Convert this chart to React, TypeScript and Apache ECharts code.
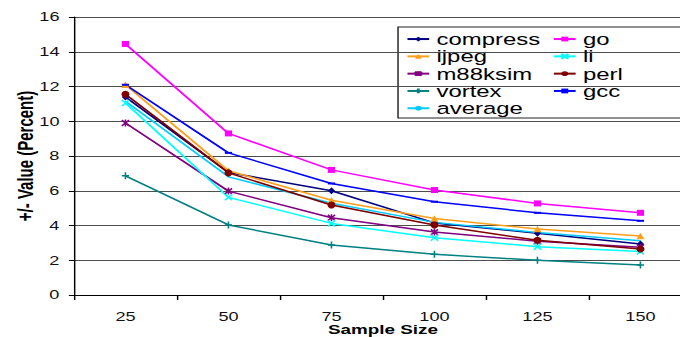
import React, { useEffect, useRef } from 'react';
import * as echarts from 'echarts';

const categories = ['25', '50', '75', '100', '125', '150'];
const compress = [11.4, 7.05, 6.0, 4.15, 3.55, 2.93];
const ijpeg = [12.1, 7.15, 5.45, 4.4, 3.8, 3.4];
const m88ksim = [9.9, 5.98, 4.45, 3.62, 3.1, 2.75];
const vortex = [6.86, 4.03, 2.88, 2.34, 2.0, 1.73];
const average = [11.15, 6.8, 5.28, 4.18, 3.6, 3.12];
const go = [14.45, 9.3, 7.2, 6.04, 5.27, 4.73];
const li = [11.05, 5.62, 4.12, 3.3, 2.78, 2.5];
const perl = [11.55, 7.03, 5.18, 4.03, 3.15, 2.65];
const gcc = [12.1, 8.18, 6.42, 5.37, 4.73, 4.27];

const legendCol1 = ['compress', 'ijpeg', 'm88ksim', 'vortex', 'average'];
const legendCol2 = ['go', 'li', 'perl', 'gcc'];

const S = 1.45;
const W = 680 / S;
const FONT = "'Liberation Sans', Arial, Helvetica, sans-serif";

const X_SYM = 'path://M0,0L10,10M10,0L0,10';
const STAR_SYM = 'path://M1,1L9,9M9,1L1,9M5,0L5,10';
const PLUS_SYM = 'path://M5,0L5,10M0,5L10,5';

export default function App() {
  const ref = useRef<HTMLDivElement>(null);
  useEffect(() => {
    const chart = echarts.init(ref.current!, null, { renderer: 'svg', width: W, height: 337 });
    const mk = (name: string, data: number[], color: string, symbol: string, size: any, stroke = false) => ({
      name,
      type: 'line',
      data,
      symbol,
      symbolSize: size,
      showSymbol: symbol !== 'none',
      lineStyle: { color, width: 1.5 },
      itemStyle: { color, borderColor: color, borderWidth: stroke ? 1.3 : 0 },
      emphasis: { disabled: true },
    });
    chart.setOption({
      animation: false,
      backgroundColor: '#fff',
      textStyle: { fontFamily: FONT },
      grid: { left: 51, top: 17, width: 426.2, height: 278, containLabel: false, outerBoundsMode: 'none' },
      xAxis: {
        type: 'category',
        data: categories,
        boundaryGap: true,
        name: 'Sample Size',
        nameLocation: 'middle',
        nameGap: 28,
        nameMoveOverlap: false,
        nameTextStyle: { fontFamily: FONT, fontSize: 13, fontWeight: 'bold', color: '#000' },
        axisLine: { lineStyle: { color: '#000', width: 1 } },
        axisTick: { show: true, length: 5, lineStyle: { color: '#000' } },
        axisLabel: { fontFamily: FONT, fontSize: 12.5, color: '#111', margin: 15 },
      },
      yAxis: {
        type: 'value',
        min: 0,
        max: 16,
        interval: 2,
        name: '+/- Value (Percent)',
        nameLocation: 'middle',
        nameGap: 26,
        nameMoveOverlap: false,
        nameTextStyle: { fontFamily: FONT, fontSize: 15, fontWeight: 'bold', color: '#000' },
        axisLine: { show: true, lineStyle: { color: '#000', width: 1 } },
        axisTick: { show: true, length: 3.5, lineStyle: { color: '#000' } },
        axisLabel: { fontFamily: FONT, fontSize: 12.5, color: '#111', margin: 10 },
        splitLine: { show: true, lineStyle: { color: '#4d4d4d', width: 1 } },
      },
      legend: [
        {
          data: legendCol1,
          orient: 'vertical',
          left: 280,
          top: 30.4,
          padding: 0,
          itemGap: 0,
          itemWidth: 15,
          itemHeight: 6,
          selectedMode: false,
          textStyle: { fontFamily: FONT, fontSize: 16.5, lineHeight: 17.3, color: '#000' },
        },
        {
          data: legendCol2,
          orient: 'vertical',
          left: 381,
          top: 30.4,
          padding: 0,
          itemGap: 0,
          itemWidth: 15,
          itemHeight: 6,
          selectedMode: false,
          textStyle: { fontFamily: FONT, fontSize: 16.5, lineHeight: 17.3, color: '#000' },
        },
      ],
      graphic: [
        {
          type: 'rect',
          z: 0,
          shape: { x: 274.5, y: 27, width: 260, height: 91 },
          style: { fill: '#fff', stroke: '#222', lineWidth: 1 },
        },
      ],
      series: [
        mk('compress', compress, '#000080', 'diamond', [5, 7]),
        mk('ijpeg', ijpeg, '#FF9F1A', 'triangle', [5.5, 6.5]),
        mk('m88ksim', m88ksim, '#800080', STAR_SYM, [5, 7], true),
        mk('vortex', vortex, '#008080', PLUS_SYM, [5, 7], true),
        mk('average', average, '#00CCFF', 'none', 0),
        mk('go', go, '#FF00FF', 'rect', [5, 6]),
        mk('li', li, '#00FFFF', X_SYM, [5, 6], true),
        mk('perl', perl, '#800000', 'circle', [5.5, 7]),
        mk('gcc', gcc, '#0000FF', 'rect', [5, 2]),
      ],
    });
    return () => chart.dispose();
  }, []);
  return (
    <div style={{ position: 'fixed', left: 0, top: 0, width: 680, height: 337, overflow: 'hidden', background: '#fff' }}>
      <div ref={ref} style={{ width: W, height: 337, transform: `scaleX(${S})`, transformOrigin: '0 0' }} />
    </div>
  );
}
